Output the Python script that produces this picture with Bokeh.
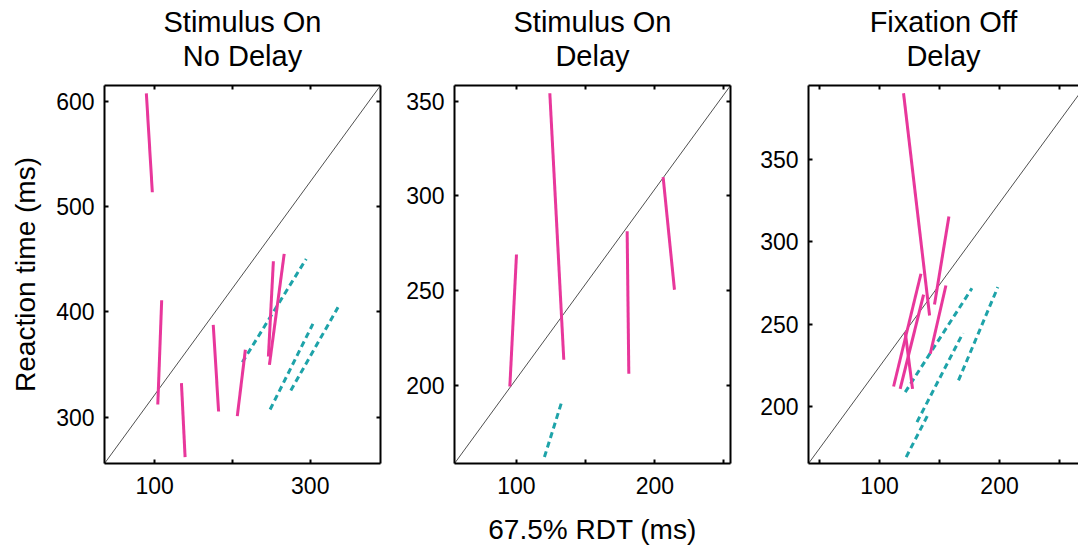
from bokeh.plotting import figure
from bokeh.layouts import row
from bokeh.models import FixedTicker, LinearAxis, Title, Range1d
from bokeh.embed import file_html
from bokeh.resources import INLINE

FONT = "Liberation Sans"
MAGENTA = "#E8379B"
TEAL = "#1EA3A9"

# ---------------- data ----------------
panel_titles = [("Stimulus On", "No Delay"), ("Stimulus On", "Delay"), ("Fixation Off", "Delay")]
x_label = "67.5% RDT (ms)"
y_label = "Reaction time (ms)"

# Panel 1: Stimulus On / No Delay
p1_xrange = [35.5, 390.3]
p1_yrange = [256.0, 615.0]
p1_xticks = [100, 200, 300]
p1_xtick_labels = ["100", "", "300"]
p1_yticks = [300, 400, 500, 600]
p1_diag_x = [35.5, 390.3]
p1_diag_y = [256.0, 615.0]
p1_solid_x0 = [89.3, 109.0, 134.4, 175.3, 206.2, 252.6, 266.5]
p1_solid_y0 = [607.6, 411.0, 332.3, 387.7, 301.0, 448.1, 455.1]
p1_solid_x1 = [97.0, 104.0, 139.1, 182.2, 216.6, 246.2, 247.5]
p1_solid_y1 = [513.6, 312.0, 262.0, 305.4, 364.0, 357.6, 349.7]
p1_dash_x0 = [212.7, 248.4, 275.0]
p1_dash_y0 = [352.2, 307.3, 325.3]
p1_dash_x1 = [294.8, 303.4, 335.7]
p1_dash_y1 = [450.3, 388.6, 404.4]

# Panel 2: Stimulus On / Delay
p2_xrange = [55.2, 254.7]
p2_yrange = [158.6, 358.3]
p2_xticks = [100, 150, 200, 250]
p2_xtick_labels = ["100", "", "200", ""]
p2_yticks = [200, 250, 300, 350]
p2_diag_x = [55.2, 254.7]
p2_diag_y = [158.6, 358.3]
p2_solid_x0 = [100.0, 124.1, 180.0, 206.0]
p2_solid_y0 = [269.0, 354.2, 281.3, 309.9]
p2_solid_x1 = [95.2, 134.2, 181.2, 214.2]
p2_solid_y1 = [199.3, 213.4, 206.0, 250.4]
p2_dash_x0 = [120.2]
p2_dash_y0 = [162.0]
p2_dash_x1 = [133.0]
p2_dash_y1 = [191.9]

# Panel 3: Fixation Off / Delay
p3_xrange = [40.8, 265.8]
p3_yrange = [165.4, 394.7]
p3_xticks = [50, 100, 150, 200, 250]
p3_xtick_labels = ["", "100", "", "200", ""]
p3_yticks = [200, 250, 300, 350]
p3_diag_x = [40.8, 271.6]
p3_diag_y = [165.4, 394.7]
p3_solid_x0 = [120.0, 134.5, 136.7, 121.4, 155.3, 157.8]
p3_solid_y0 = [390.0, 280.5, 267.9, 245.0, 273.4, 315.2]
p3_solid_x1 = [141.7, 111.7, 117.2, 127.5, 142.3, 145.8]
p3_solid_y1 = [255.2, 212.1, 210.7, 210.7, 232.0, 261.9]
p3_dash_x0 = [121.4, 131.2, 122.2, 165.8]
p3_dash_y0 = [208.7, 190.5, 169.3, 215.8]
p3_dash_x1 = [177.0, 169.5, 140.8, 198.6]
p3_dash_y1 = [271.7, 244.5, 195.6, 272.4]


def style_axis(ax, ticks, labels=None, blank=False, standoff=10):
    ax.ticker = FixedTicker(ticks=ticks)
    ax.axis_line_width = 2
    ax.axis_line_color = "black"
    ax.major_tick_in = 4
    ax.major_tick_out = 0
    ax.major_tick_line_width = 2
    ax.major_tick_line_color = "black"
    ax.minor_tick_line_color = None
    ax.major_label_text_font = FONT
    ax.major_label_text_color = "black"
    if blank:
        ax.major_label_overrides = {t: "" for t in ticks}
        ax.major_label_text_font_size = "1px"
        ax.major_label_standoff = 0
    else:
        ax.major_label_text_font_size = "23px"
        ax.major_label_standoff = standoff
        if labels is not None:
            ax.major_label_overrides = {t: l for t, l in zip(ticks, labels)}


def make_panel(width, left, right, xr, yr, xticks, xlabels, yticks, titles,
               diag_x, diag_y, sx0, sy0, sx1, sy1, dx0, dy0, dx1, dy1,
               right_axis=True, xlab=None, ylab=None):
    p = figure(width=width, height=552, x_range=Range1d(*xr), y_range=Range1d(*yr),
               output_backend="svg", toolbar_location=None, title_location=None,
               min_border_left=left, min_border_right=right,
               min_border_top=85, min_border_bottom=89)
    p.outline_line_color = None
    p.xgrid.visible = False
    p.ygrid.visible = False
    p.background_fill_color = "white"
    p.border_fill_color = "white"

    bottom = p.xaxis[0]
    left_ax = p.yaxis[0]
    style_axis(bottom, xticks, xlabels, standoff=13)
    style_axis(left_ax, yticks, standoff=10)
    top = LinearAxis()
    style_axis(top, xticks, blank=True)
    p.add_layout(top, "above")
    if right_axis:
        rax = LinearAxis()
        style_axis(rax, yticks, blank=True)
        p.add_layout(rax, "right")

    if xlab:
        bottom.axis_label = xlab
        bottom.axis_label_text_font = FONT
        bottom.axis_label_text_font_size = "28px"
        bottom.axis_label_text_font_style = "normal"
        bottom.axis_label_text_color = "black"
        bottom.axis_label_standoff = 17
    if ylab:
        left_ax.axis_label = ylab
        left_ax.axis_label_text_font = FONT
        left_ax.axis_label_text_font_size = "28px"
        left_ax.axis_label_text_font_style = "normal"
        left_ax.axis_label_text_color = "black"
        left_ax.axis_label_standoff = 12

    p.add_layout(Title(text=titles[1], align="center", text_font=FONT,
                       text_font_size="29px", text_font_style="normal",
                       text_color="black", standoff=28), "above")
    p.add_layout(Title(text=titles[0], align="center", text_font=FONT,
                       text_font_size="29px", text_font_style="normal",
                       text_color="black", standoff=-28), "above")

    p.line(diag_x, diag_y, line_color="#222222", line_width=0.8)
    p.segment(x0=dx0, y0=dy0, x1=dx1, y1=dy1, line_color=TEAL, line_width=3,
              line_dash="6 4")
    p.segment(x0=sx0, y0=sy0, x1=sx1, y1=sy1, line_color=MAGENTA, line_width=3)
    return p


f1 = make_panel(400, 104, 20, p1_xrange, p1_yrange, p1_xticks, p1_xtick_labels, p1_yticks,
                panel_titles[0], p1_diag_x, p1_diag_y,
                p1_solid_x0, p1_solid_y0, p1_solid_x1, p1_solid_y1,
                p1_dash_x0, p1_dash_y0, p1_dash_x1, p1_dash_y1, ylab=y_label)
f2 = make_panel(350, 54, 20, p2_xrange, p2_yrange, p2_xticks, p2_xtick_labels, p2_yticks,
                panel_titles[1], p2_diag_x, p2_diag_y,
                p2_solid_x0, p2_solid_y0, p2_solid_x1, p2_solid_y1,
                p2_dash_x0, p2_dash_y0, p2_dash_x1, p2_dash_y1, xlab=x_label)
f3 = make_panel(328, 58, 0, p3_xrange, p3_yrange, p3_xticks, p3_xtick_labels, p3_yticks,
                panel_titles[2], p3_diag_x, p3_diag_y,
                p3_solid_x0, p3_solid_y0, p3_solid_x1, p3_solid_y1,
                p3_dash_x0, p3_dash_y0, p3_dash_x1, p3_dash_y1, right_axis=False)

layout = row(f1, f2, f3, spacing=0)
open("out.html", "w").write(file_html(layout, INLINE))
